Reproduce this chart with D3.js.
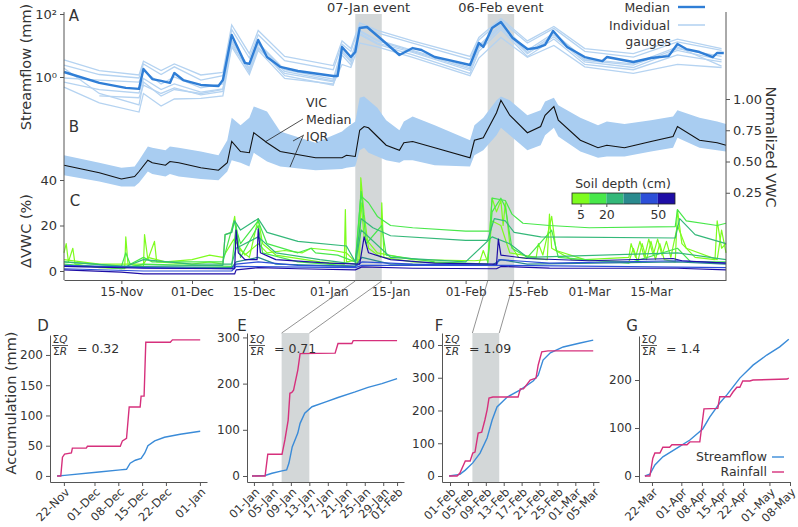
<!DOCTYPE html>
<html><head><meta charset="utf-8">
<script src="https://cdn.jsdelivr.net/npm/d3@7"></script>
<style>body{margin:0;background:#fff}svg{font-family:"DejaVu Sans",sans-serif}</style>
</head><body><svg id="c" width="798" height="527"></svg>
<script>
// ---------- DATA ----------
const topTicks = ["2016-11-15","2016-12-01","2016-12-15","2017-01-01","2017-01-15","2017-02-01","2017-02-15","2017-03-01","2017-03-15"];
const events = [{label:"07-Jan event", start:"2017-01-07", end:"2017-01-13"},{label:"06-Feb event", start:"2017-02-06", end:"2017-02-12"}];

const flowMedianDates = ["2016-11-02","2016-11-10","2016-11-16","2016-11-19","2016-11-20","2016-11-22","2016-11-24","2016-11-26","2016-11-27","2016-11-29","2016-12-03","2016-12-07","2016-12-08","2016-12-10","2016-12-13","2016-12-14","2016-12-16","2016-12-18","2016-12-21","2016-12-25","2017-01-02","2017-01-03","2017-01-04","2017-01-06","2017-01-07","2017-01-08","2017-01-09T16","2017-01-12T14","2017-01-17","2017-01-20","2017-01-22","2017-01-25","2017-01-28","2017-02-02","2017-02-04","2017-02-05","2017-02-07","2017-02-09","2017-02-11T16","2017-02-15","2017-02-17","2017-02-19","2017-02-20T20","2017-02-24","2017-02-28","2017-03-04","2017-03-05","2017-03-11","2017-03-15","2017-03-19","2017-03-21","2017-03-23","2017-03-26","2017-03-29","2017-03-30","2017-03-31T12"];
const flowMedian = [1.44,0.65,0.45,0.42,1.8,0.86,0.75,0.65,1.34,0.8,0.56,0.52,0.8,21.5,2.8,2.6,15,4.3,2.1,1.55,1.08,1.08,9.0,4.3,6.2,36,38.7,17.3,5.0,8.3,7.2,4.3,3.5,2.4,12,9.0,36,55.7,17.3,7.7,8.3,10.4,29,9.0,4.3,3.2,4.3,3.0,4.0,4.6,11.2,7.7,6.2,4.3,5.8,5.8];

const gaugeDates = ["2016-11-02","2016-11-10","2016-11-19","2016-11-20","2016-11-24","2016-11-27","2016-12-03","2016-12-08","2016-12-10","2016-12-14","2016-12-16","2016-12-22","2017-01-02","2017-01-04","2017-01-06","2017-01-08","2017-01-12","2017-01-20","2017-02-02","2017-02-04","2017-02-09","2017-02-15","2017-02-21","2017-02-28","2017-03-11","2017-03-21","2017-03-31"];
const gauge1 = [3.5,1.6,1.16,3.2,1.6,2.6,1.16,1.4,45,5.5,30,4.5,2.3,14,8,52,30,14,4.5,18,72,14,40,8,5.5,16,8];
const gauge2 = [2.4,1.2,0.93,2.6,1.2,2.1,0.8,1.1,32,4.0,22,3.3,1.7,11,6.5,44,25,12,3.6,15,62,12,35,6.5,4.3,13,7];
const gauge3 = [0.93,0.8,0.69,1.6,0.6,1.0,0.45,0.6,15,1.9,11,1.5,0.75,7,3.3,28,14,6.5,1.8,9,42,6,22,3.4,2.4,8,4.5];
const gauge4 = [0.69,0.4,0.31,0.9,0.4,0.6,0.33,0.42,12,1.4,9,1.1,0.55,5,2.4,22,11,5,1.3,6.5,32,4.5,16,2.5,1.7,5,3.0];
const gauge5 = [0.48,0.15,0.077,0.3,0.12,0.2,0.21,0.25,9,1.2,7,0.9,0.6,2.5,2.0,12,9,4.2,1.1,4,18,4.2,10,2.1,1.3,2.5,2.0];
const gauge6 = [null,0.25,0.22,0.55,0.3,0.45,0.27,0.35,14,1.8,12,1.7,0.85,8,4,30,15,7,2.0,10,48,7,25,3.7,2.6,9,2.2];
const gauge7 = [1.9,0.3,0.13,0.7,0.25,0.4,0.3,0.4,10,1.6,8,1.3,0.7,6,3,24,12,6,1.6,8,38,5.5,19,3,2.0,7,3.5];
const gauges = [gauge1,gauge2,gauge3,gauge4,gauge5,gauge6,gauge7];

const vicDates = ["2016-11-02","2016-11-10","2016-11-15","2016-11-18","2016-11-19","2016-11-21","2016-11-22","2016-11-25","2016-11-26","2016-11-28","2016-12-03","2016-12-07","2016-12-09","2016-12-10","2016-12-12","2016-12-14","2016-12-15","2016-12-18","2016-12-21","2016-12-29","2017-01-04","2017-01-05","2017-01-07","2017-01-08","2017-01-09","2017-01-10","2017-01-12","2017-01-14","2017-01-17","2017-01-18","2017-01-20","2017-01-25","2017-02-02","2017-02-03","2017-02-05","2017-02-08","2017-02-09","2017-02-11","2017-02-15","2017-02-18","2017-02-19","2017-02-21","2017-02-22","2017-02-27","2017-03-03","2017-03-05","2017-03-09","2017-03-15","2017-03-20","2017-03-21","2017-03-26","2017-03-30","2017-04-01"];
const vicMedian = [.47,.41,.36,.38,.42,.51,.49,.47,.50,.49,.45,.43,.49,.66,.58,.57,.73,.65,.58,.53,.53,.55,.54,.75,.78,.77,.70,.63,.59,.65,.66,.61,.53,.67,.69,.89,.99,.87,.73,.78,.87,.94,.83,.67,.61,.63,.61,.66,.70,.78,.67,.65,.63];
const vicIqrHigh = [.55,.49,.45,.46,.51,.62,.61,.59,.62,.61,.58,.55,.67,.85,.79,.85,.94,.90,.74,.65,.74,.77,.82,1.01,1.02,.99,.93,.83,.75,.82,.86,.79,.67,.79,.85,.99,1.02,.99,.87,.91,.98,1.01,.95,.85,.79,.82,.80,.83,.86,.91,.85,.82,.80];
const vicIqrLow = [.39,.34,.30,.30,.33,.42,.40,.38,.40,.38,.36,.35,.42,.51,.49,.46,.57,.50,.46,.43,.44,.45,.46,.59,.61,.57,.54,.51,.49,.51,.51,.47,.46,.55,.59,.71,.77,.71,.59,.63,.71,.77,.70,.58,.53,.54,.54,.58,.61,.69,.61,.59,.58];

const depthBounds = [0,10,20,30,40,50,60];
const depthColors = ["#7efc1e","#48e84a","#34b879","#2a8a8e","#2c4fd8","#1e0ea6"];
const depthTicks = [5,20,50];
const sensors = [
 {depth:5, pts:[["2016-11-02",8],["2016-11-02T12",12],["2016-11-03",4],["2016-11-04",10],["2016-11-04T12",3],["2016-11-10",1.5],["2016-11-15T18",1],["2016-11-16",15],["2016-11-16T12",3],["2016-11-20",2],["2016-11-20T06",16],["2016-11-21",5],["2016-11-22T12",13],["2016-11-23",4],["2016-12-01",3],["2016-12-05",4],["2016-12-08",3],["2016-12-08T12",16],["2016-12-10",17],["2016-12-10T16",24],["2016-12-11T12",10],["2016-12-14",6],["2016-12-16",23],["2016-12-17",12],["2016-12-20",7],["2016-12-30",4],["2017-01-04T12",3],["2017-01-04T18",27],["2017-01-05",4],["2017-01-08",5],["2017-01-08T06",41],["2017-01-09",25],["2017-01-10",10],["2017-01-12T18",6],["2017-01-13",30],["2017-01-13T12",6],["2017-01-20",4],["2017-02-04",3],["2017-02-05",9],["2017-02-06",4],["2017-02-07",32],["2017-02-08",26],["2017-02-09",31],["2017-02-09T12",20],["2017-02-10",30],["2017-02-11",12],["2017-02-13",6],["2017-02-19T12",5],["2017-02-20",25],["2017-02-20T12",10],["2017-02-25",5],["2017-03-10",4],["2017-03-11",10],["2017-03-12",4],["2017-03-13",12],["2017-03-14",5],["2017-03-15",13],["2017-03-16",5],["2017-03-17",12],["2017-03-18",5],["2017-03-20T12",4],["2017-03-21",27],["2017-03-22",12],["2017-03-25",6],["2017-03-29T12",5],["2017-03-30",22],["2017-03-31",10],["2017-04-01",12]]},
 {depth:5, pts:[["2016-11-02",5],["2016-11-10",3],["2016-11-20",3],["2016-11-21",6],["2016-11-25",4],["2016-12-01",5],["2016-12-05",7],["2016-12-08",6],["2016-12-10T12",14],["2016-12-13",7],["2016-12-16",12],["2016-12-18",8],["2016-12-22",9],["2016-12-26",8],["2016-12-28",10],["2017-01-02",9],["2017-01-05",8],["2017-01-07T12",3],["2017-01-08T08",30],["2017-01-09",15],["2017-01-12",8],["2017-01-20",5],["2017-02-03",4.5],["2017-02-06",5],["2017-02-07",22],["2017-02-09",20],["2017-02-11",8],["2017-02-17",6],["2017-02-17T12",12],["2017-02-18T12",7],["2017-02-20T12",24],["2017-02-21T12",9],["2017-02-28",5],["2017-03-10",6],["2017-03-10T12",12],["2017-03-11T12",6],["2017-03-12T12",13],["2017-03-13T12",6],["2017-03-14T12",14],["2017-03-15T12",7],["2017-03-16T12",14],["2017-03-17T12",7],["2017-03-18T12",13],["2017-03-19T12",6],["2017-03-21",20],["2017-03-23",10],["2017-03-30",5],["2017-03-31",18],["2017-04-01",8]]},
 {depth:10, pts:[["2016-11-02",4],["2016-11-15",2],["2016-11-16",8],["2016-11-17",3],["2016-11-20",6],["2016-11-22",4],["2016-12-01",4],["2016-12-08",4],["2016-12-10T12",22],["2016-12-12",12],["2016-12-16",22],["2016-12-18",12],["2016-12-25",8],["2016-12-28",10],["2016-12-29",8],["2017-01-03",7],["2017-01-07",4],["2017-01-08T06",33],["2017-01-10",30],["2017-01-12",24],["2017-01-15",20],["2017-01-20",19],["2017-02-01",17.5],["2017-02-06T12",17.5],["2017-02-07",32],["2017-02-10",31],["2017-02-11T12",25],["2017-02-14",21],["2017-02-20",20],["2017-03-01",19],["2017-03-20T12",19.5],["2017-03-21",27],["2017-03-23",22],["2017-03-30",20],["2017-04-01",21]]},
 {depth:10, pts:[["2016-11-02",3],["2016-11-15",1],["2016-11-20",3],["2016-12-01",2.5],["2016-12-10",2],["2016-12-11",20],["2016-12-12",6],["2016-12-16",20],["2016-12-17",8],["2016-12-25",4],["2017-01-07",2],["2017-01-08T08",35],["2017-01-09T12",12],["2017-01-13",20],["2017-01-14",7],["2017-01-25",4],["2017-02-06",3],["2017-02-07",26],["2017-02-09",32],["2017-02-10",28],["2017-02-11T12",10],["2017-02-15",6],["2017-02-20T12",18],["2017-02-22",6],["2017-03-10",3.5],["2017-03-21",10],["2017-03-24",4],["2017-04-01",4]]},
 {depth:20, pts:[["2016-11-02",2],["2016-11-20",2],["2016-12-08",2.5],["2016-12-08T12",16],["2016-12-10",17],["2016-12-10T16",22],["2016-12-12",18],["2016-12-16",23],["2016-12-18",17],["2016-12-25",13],["2017-01-05",11],["2017-01-07",4],["2017-01-08T08",23],["2017-01-11",19],["2017-01-15",15.5],["2017-02-01",13.5],["2017-02-06",13.5],["2017-02-07T12",23],["2017-02-10",22],["2017-02-12",17],["2017-02-18",15],["2017-03-20T12",14.5],["2017-03-21T12",23],["2017-03-25",16],["2017-04-01",12]]},
 {depth:20, pts:[["2016-11-02",4],["2016-11-16",2],["2016-11-20",5],["2016-12-01",3],["2016-12-10",3],["2016-12-11",10],["2016-12-16",15],["2016-12-20",8],["2016-12-30",5],["2017-01-07",3],["2017-01-08T08",18],["2017-01-15",6],["2017-02-01",4],["2017-02-07",15],["2017-02-11",12],["2017-02-15",6],["2017-03-21",8],["2017-04-01",5]]},
 {depth:30, pts:[["2016-11-02",2],["2016-12-10",1.5],["2016-12-11",4],["2016-12-16",6],["2016-12-20",3],["2017-01-07",2],["2017-01-08T12",6],["2017-01-15",3],["2017-02-07",2.5],["2017-02-09",5],["2017-02-15",3],["2017-03-21",4],["2017-04-01",3]]},
 {depth:40, pts:[["2016-11-02",2.5],["2016-11-20",1.5],["2016-12-10",1],["2016-12-11",3],["2016-12-16",4],["2016-12-25",2.5],["2017-01-07",2],["2017-01-08T12",4],["2017-01-20",3],["2017-02-08",2.5],["2017-02-08T12",5],["2017-02-20",3.5],["2017-03-21",4.5],["2017-04-01",3.5]]},
 {depth:40, pts:[["2016-11-02",1],["2016-11-20",0],["2016-12-10",0],["2016-12-11",2],["2017-01-07",1.5],["2017-01-08T12",2.5],["2017-02-09",2.5],["2017-04-01",1.5]]},
 {depth:50, pts:[["2016-11-02",0.5],["2016-11-15",-0.5],["2016-11-20",-1.3],["2016-12-10T16",-1.3],["2016-12-11",0.5],["2016-12-16",1.5],["2016-12-25",1.0],["2017-01-07",0.5],["2017-01-08T12",1.8],["2017-01-20",1.2],["2017-02-08",1.0],["2017-02-09",2.0],["2017-02-20",1.3],["2017-03-21",1.2],["2017-04-01",0.5]]},
 {depth:50, pts:[["2016-11-02",2],["2016-11-20",1.2],["2016-12-10T16",1],["2016-12-11",18],["2016-12-11T12",8],["2016-12-13",5],["2016-12-15T18",5],["2016-12-16",18.5],["2016-12-16T12",8],["2016-12-20",5],["2017-01-01",3.5],["2017-01-08",3],["2017-01-09",15],["2017-01-10",8],["2017-01-15",5],["2017-01-25",3.5],["2017-02-08",3],["2017-02-08T10",14],["2017-02-09",7],["2017-02-15",5.5],["2017-03-01",4.5],["2017-03-20",5.5],["2017-03-22",4.5],["2017-04-01",3.5]]}
];

// bottom panels (cumulative mm)
const rainD = [["2016-11-20",0],["2016-11-21T02",0],["2016-11-21T14",31],["2016-11-22T05",36],["2016-11-24T05",38],["2016-11-24T12",46],["2016-11-28T14",46],["2016-11-28T22",49],["2016-12-08T14",49],["2016-12-09T05",58],["2016-12-10T10",62],["2016-12-11T05",114],["2016-12-14T10",114],["2016-12-14T17",132],["2016-12-15T14",132],["2016-12-16T02",221],["2016-12-23T07",221],["2016-12-23T22",225],["2017-01-01T02",225]];
const flowD = [["2016-11-20",0],["2016-11-22T05",1],["2016-12-02T07",6.6],["2016-12-08T14",10],["2016-12-10T10",11],["2016-12-11T12",21],["2016-12-13",26],["2016-12-14T17",29],["2016-12-15T19",38],["2016-12-16T17",50],["2016-12-18T17",58],["2016-12-21T14",64],["2016-12-26T05",69],["2017-01-01T02",74]];
const rainE = [["2016-12-31T14",0],["2017-01-03T10",0],["2017-01-04",47],["2017-01-07T02",47],["2017-01-07T17",78],["2017-01-08T10",121],["2017-01-08T19",179],["2017-01-09T05",181],["2017-01-09T14",186],["2017-01-10T12",229],["2017-01-11",265],["2017-01-18T14",266],["2017-01-19T05",287],["2017-01-22T05",287],["2017-01-22T12",293],["2017-02-01",293]];
const flowE = [["2016-12-31T14",0],["2017-01-03T10",1],["2017-01-04T22",6],["2017-01-07T02",11],["2017-01-08T02",13],["2017-01-08T14",28],["2017-01-09T07",63],["2017-01-10T12",93],["2017-01-11",114],["2017-01-12",136],["2017-01-13T14",150],["2017-01-16T10",160],["2017-01-19T05",170],["2017-01-22T22",182],["2017-01-25T17",192],["2017-01-28T17",200],["2017-02-01",211]];
const rainF = [["2017-01-31T19",0],["2017-02-02T14",0],["2017-02-03T05",9],["2017-02-04T10",46],["2017-02-05T12",46],["2017-02-06T02",70],["2017-02-06T14",73],["2017-02-07T07",131],["2017-02-08T02",134],["2017-02-08T19",171],["2017-02-09T07",202],["2017-02-09T17",238],["2017-02-10T14",241],["2017-02-16T05",241],["2017-02-16T17",266],["2017-02-17T10",266],["2017-02-18T22",293],["2017-02-20T05",299],["2017-02-20T17",339],["2017-02-21T12",379],["2017-02-22T22",382],["2017-03-05",382]];
const flowF = [["2017-01-31T19",0],["2017-02-03T05",5],["2017-02-04T10",18],["2017-02-06T02",40],["2017-02-07T17",70],["2017-02-09T07",116],["2017-02-10T10",171],["2017-02-11T12",211],["2017-02-13T19",241],["2017-02-16T17",263],["2017-02-19T14",290],["2017-02-20T17",308],["2017-02-21T19",354],["2017-02-23T10",376],["2017-02-26T07",394],["2017-03-02T02",406],["2017-03-05",415]];
const rainG = [["2017-03-19T14",0],["2017-03-21T07",0],["2017-03-22T07",37],["2017-03-23",48],["2017-03-24T17",48],["2017-03-25T17",60],["2017-03-28",60],["2017-03-28T19",65],["2017-04-02T22",65],["2017-04-03T22",71],["2017-04-07T07",71],["2017-04-08T17",140],["2017-04-13T10",141],["2017-04-14T02",165],["2017-04-17T12",165],["2017-04-18T14",175],["2017-04-19T22",185],["2017-04-20T22",185],["2017-04-21T22",198],["2017-04-24T07",198],["2017-04-25T10",200],["2017-05-07",202],["2017-05-07T14",204]];
const flowG = [["2017-03-19T14",0],["2017-03-21T07",4],["2017-03-23",23],["2017-03-25T17",40],["2017-03-30T12",58],["2017-04-03T22",75],["2017-04-08T07",98],["2017-04-10T17",123],["2017-04-14T02",152],["2017-04-16T12",169],["2017-04-20T22",204],["2017-04-25T10",231],["2017-04-30T02",252],["2017-05-04T12",269],["2017-05-07T14",285]];
const ticksD = ["2016-11-22","2016-12-01","2016-12-08","2016-12-15","2016-12-22","2017-01-01"];
const ticksE = ["2017-01-01","2017-01-05","2017-01-09","2017-01-13","2017-01-17","2017-01-21","2017-01-25","2017-01-29","2017-02-01"];
const ticksF = ["2017-02-01","2017-02-05","2017-02-09","2017-02-13","2017-02-17","2017-02-21","2017-02-25","2017-03-01","2017-03-05"];
const ticksG = ["2017-03-22","2017-04-01","2017-04-08","2017-04-15","2017-04-22","2017-05-01","2017-05-08"];
const ratios = ["0.32","0.71","1.09","1.4"];

// ---------- DRAW ----------
const P = s => d3.utcParse(s.length > 10 ? "%Y-%m-%dT%H" : "%Y-%m-%d")(s);
const svg = d3.select("#c");
const TXT = "#333", AX = "#555";
const fmt = d3.utcFormat("%d-%b");
const cFlow = "#2f7ed6", cGauge = "#b5d3f1", cIqr = "#a9cdf1", cRain = "#d6307c", cQ = "#3a8bd8", cShade = "#d3d7d8";

function styleAxis(g, fs) {
  g.select(".domain").attr("stroke", AX);
  g.selectAll(".tick line").attr("stroke", AX);
  g.selectAll(".tick text").attr("fill", TXT).attr("font-size", fs || 12).attr("font-family", "DejaVu Sans");
}

const xTop = d3.scaleUtc().domain([P("2016-11-02"), P("2017-04-01")]).range([64, 726]);
const yA = d3.scaleLog().domain([1, 100]).range([77, 14]);
const yB = d3.scaleLinear().domain([0, 1]).range([224, 99]);
const yC = d3.scaleLinear().domain([0, 40]).range([271, 180]);

// event shading top
events.forEach(e => {
  svg.append("rect").attr("x", xTop(P(e.start))).attr("y", 14)
    .attr("width", xTop(P(e.end)) - xTop(P(e.start))).attr("height", 280 - 14).attr("fill", cShade);
  svg.append("text").attr("x", (xTop(P(e.start)) + xTop(P(e.end))) / 2).attr("y", 12)
    .attr("text-anchor", "middle").attr("font-size", 13).attr("fill", TXT).text(e.label);
});

// Panel A
const lineA = d3.line().defined(d => d[1] != null).x(d => xTop(P(d[0]))).y(d => yA(d[1]));
gauges.forEach(g => {
  svg.append("path").attr("d", lineA(gaugeDates.map((d, i) => [d, g[i]])))
    .attr("fill", "none").attr("stroke", cGauge).attr("stroke-width", 1.3);
});
svg.append("path").attr("d", lineA(flowMedianDates.map((d, i) => [d, flowMedian[i]])))
  .attr("fill", "none").attr("stroke", cFlow).attr("stroke-width", 2.4).attr("stroke-linejoin", "round");

// Panel B
const areaB = d3.area().x((d, i) => xTop(P(vicDates[i]))).y0((d, i) => yB(vicIqrLow[i])).y1((d, i) => yB(vicIqrHigh[i]));
svg.append("path").attr("d", areaB(vicDates)).attr("fill", cIqr);
const lineB = d3.line().x((d, i) => xTop(P(vicDates[i]))).y((d, i) => yB(vicMedian[i]));
svg.append("path").attr("d", lineB(vicDates)).attr("fill", "none").attr("stroke", "#111").attr("stroke-width", 1.1);

// Panel C
const depthColor = d3.scaleThreshold().domain(depthBounds.slice(1, -1)).range(depthColors);
const lineC = d3.line().x(d => xTop(P(d[0]))).y(d => yC(d[1]));
sensors.slice().sort((a, b) => a.depth - b.depth).forEach(s => {
  svg.append("path").attr("d", lineC(s.pts)).attr("fill", "none")
    .attr("stroke", depthColor(s.depth)).attr("stroke-width", 1.2).attr("stroke-linejoin", "round");
});

// Axes top
const gx = svg.append("g").attr("transform", "translate(0,280)")
  .call(d3.axisBottom(xTop).tickValues(topTicks.map(P)).tickFormat(fmt).tickSize(4).tickSizeOuter(0));
styleAxis(gx);
svg.append("line").attr("x1", 64).attr("x2", 64).attr("y1", 12).attr("y2", 280).attr("stroke", AX);
svg.append("line").attr("x1", 726).attr("x2", 726).attr("y1", 12).attr("y2", 280).attr("stroke", AX);
const gyA = svg.append("g").attr("transform", "translate(64,0)")
  .call(d3.axisLeft(yA).tickValues([1, 100]).tickFormat(d => d === 1 ? "10⁰" : "10²").tickSize(4));
gyA.select(".domain").remove(); styleAxis(gyA, 13);
const gyC = svg.append("g").attr("transform", "translate(64,0)")
  .call(d3.axisLeft(yC).tickValues([0, 20, 40]).tickSize(4));
gyC.select(".domain").remove(); styleAxis(gyC, 13);
const gyB = svg.append("g").attr("transform", "translate(726,0)")
  .call(d3.axisRight(yB).tickValues([0.25, 0.5, 0.75, 1]).tickFormat(d3.format(".2f")).tickSize(4));
gyB.select(".domain").remove(); styleAxis(gyB, 13);

function vlabel(x, y, t, rot) {
  svg.append("text").attr("transform", `translate(${x},${y}) rotate(${rot})`).attr("text-anchor", "middle")
    .attr("dy", "0.35em").attr("font-size", 14.5).attr("fill", TXT).text(t);
}
vlabel(26, 67, "Streamflow (mm)", -90);
vlabel(26, 231, "ΔVWC (%)", -90);
vlabel(771, 147, "Normalized VWC", 90);
vlabel(11, 403, "Accumulation (mm)", -90);

[["A", 74, 21], ["B", 74, 132], ["C", 75, 206]].forEach(([t, x, y]) =>
  svg.append("text").attr("x", x).attr("y", y).attr("text-anchor", "middle").attr("font-size", 15).attr("fill", TXT).text(t));

// legend top
const lg = [["Median", 12, cFlow, 2.4], ["Individual", 30, cGauge, 1.6]];
lg.forEach(([t, y, c, w]) => {
  svg.append("text").attr("x", 670).attr("y", y).attr("text-anchor", "end").attr("font-size", 12.5).attr("fill", TXT).text(t);
  svg.append("line").attr("x1", 678).attr("x2", 705).attr("y1", y - 5).attr("y2", y - 5).attr("stroke", c).attr("stroke-width", w);
});
svg.append("text").attr("x", 671).attr("y", 46).attr("text-anchor", "end").attr("font-size", 12.5).attr("fill", TXT).text("gauges");

// VIC annotation
[["VIC", 107], ["Median", 124], ["IQR", 141]].forEach(([t, y]) =>
  svg.append("text").attr("x", 306).attr("y", y).attr("font-size", 12.5).attr("fill", TXT).text(t));
[[303, 119, 265, 142], [304, 135, 293, 141], [303, 136, 290, 167]].forEach(([a, b, c, d]) =>
  svg.append("line").attr("x1", a).attr("y1", b).attr("x2", c).attr("y2", d).attr("stroke", "#222").attr("stroke-width", 0.8));

// colorbar
const cbx = d3.scaleLinear().domain([0, 60]).range([572, 675]);
svg.append("text").attr("x", 623).attr("y", 188).attr("text-anchor", "middle").attr("font-size", 12.5).attr("fill", TXT).text("Soil depth (cm)");
depthColors.forEach((c, i) => svg.append("rect").attr("x", cbx(depthBounds[i])).attr("y", 193)
  .attr("width", cbx(depthBounds[i + 1]) - cbx(depthBounds[i])).attr("height", 11).attr("fill", c));
svg.append("rect").attr("x", 572).attr("y", 193).attr("width", 103).attr("height", 11).attr("fill", "none").attr("stroke", "#222").attr("stroke-width", 0.8);
const gcb = svg.append("g").attr("transform", "translate(0,204)").call(d3.axisBottom(cbx).tickValues(depthTicks).tickSize(3));
gcb.select(".domain").remove(); styleAxis(gcb, 12.5);

// bottom panels
const panels = [
  {lab: "D", x0: 50, x1: 207, xd: ["2016-11-17T22", "2017-01-03T02"], yd: [-10, 233], top: 335, yt: [0, 50, 100, 150, 200], ticks: ticksD, rain: rainD, flow: flowD, ratio: ratios[0], labx: 43},
  {lab: "E", x0: 247, x1: 404, xd: ["2016-12-30T12", "2017-02-02T12"], yd: [-13, 309.6], top: 333, yt: [0, 100, 200, 300], ticks: ticksE, rain: rainE, flow: flowE, ratio: ratios[1], labx: 242, ev: events[0]},
  {lab: "F", x0: 442, x1: 599, xd: ["2017-01-30T05", "2017-03-06T07"], yd: [-18.3, 436.6], top: 333, yt: [0, 100, 200, 300, 400], ticks: ticksF, rain: rainF, flow: flowF, ratio: ratios[2], labx: 439, ev: events[1]},
  {lab: "G", x0: 639, x1: 790, xd: ["2017-03-17T14", "2017-05-08"], yd: [-12.5, 291.7], top: 336, yt: [0, 100, 200], ticks: ticksG, rain: rainG, flow: flowG, ratio: ratios[3], labx: 632}
];
panels.forEach(p => {
  const x = d3.scaleUtc().domain(p.xd.map(P)).range([p.x0, p.x1]);
  const y = d3.scaleLinear().domain(p.yd).range([482, p.top]);
  if (p.ev) {
    const a = x(P(p.ev.start)), b = x(P(p.ev.end));
    svg.append("rect").attr("x", a).attr("y", 333).attr("width", b - a).attr("height", 482 - 333).attr("fill", cShade);
    svg.append("line").attr("x1", xTop(P(p.ev.start))).attr("y1", 281).attr("x2", a).attr("y2", 333).attr("stroke", "#777").attr("stroke-width", 0.8);
    svg.append("line").attr("x1", xTop(P(p.ev.end))).attr("y1", 281).attr("x2", b).attr("y2", 333).attr("stroke", "#777").attr("stroke-width", 0.8);
  }
  const ln = d3.line().x(d => x(P(d[0]))).y(d => y(d[1]));
  svg.append("path").attr("d", ln(p.flow)).attr("fill", "none").attr("stroke", cQ).attr("stroke-width", 1.4);
  svg.append("path").attr("d", ln(p.rain)).attr("fill", "none").attr("stroke", cRain).attr("stroke-width", 1.4);
  const gxb = svg.append("g").attr("transform", "translate(0,482)")
    .call(d3.axisBottom(x).tickValues(p.ticks.map(P)).tickFormat(fmt).tickSize(4).tickSizeOuter(0));
  styleAxis(gxb, 11.5);
  gxb.selectAll(".tick text").attr("text-anchor", "end").attr("dy", "0.35em")
    .attr("transform", "translate(3,8) rotate(-45)").attr("y", 0).attr("x", 0);
  const gyb = svg.append("g").attr("transform", `translate(${p.x0},0)`)
    .call(d3.axisLeft(y).tickValues(p.yt).tickSize(4).tickSizeOuter(0));
  styleAxis(gyb, 12);
  svg.append("text").attr("x", p.labx).attr("y", 331).attr("text-anchor", "middle").attr("font-size", 15).attr("fill", TXT).text(p.lab);
  // ratio annotation
  const fx = p.x0 + 10;
  const num = svg.append("text").attr("x", fx).attr("y", 343).attr("text-anchor", "middle").attr("font-size", 10.5).attr("fill", TXT);
  num.append("tspan").text("Σ"); num.append("tspan").attr("font-style", "italic").text("Q");
  svg.append("line").attr("x1", fx - 8).attr("x2", fx + 8).attr("y1", 345.5).attr("y2", 345.5).attr("stroke", TXT).attr("stroke-width", 0.8);
  const den = svg.append("text").attr("x", fx).attr("y", 355).attr("text-anchor", "middle").attr("font-size", 10.5).attr("fill", TXT);
  den.append("tspan").text("Σ"); den.append("tspan").attr("font-style", "italic").text("R");
  svg.append("text").attr("x", p.x0 + 27).attr("y", 353).attr("font-size", 12.5).attr("fill", TXT).text("= " + p.ratio);
});

// legend G
[["Streamflow", 461, cQ], ["Rainfall", 476, cRain]].forEach(([t, yy, c]) => {
  svg.append("text").attr("x", 767).attr("y", yy).attr("text-anchor", "end").attr("font-size", 12.5).attr("fill", TXT).text(t);
  svg.append("line").attr("x1", 772).attr("x2", 784).attr("y1", yy - 4).attr("y2", yy - 4).attr("stroke", c).attr("stroke-width", 1.4);
});
</script></body></html>
